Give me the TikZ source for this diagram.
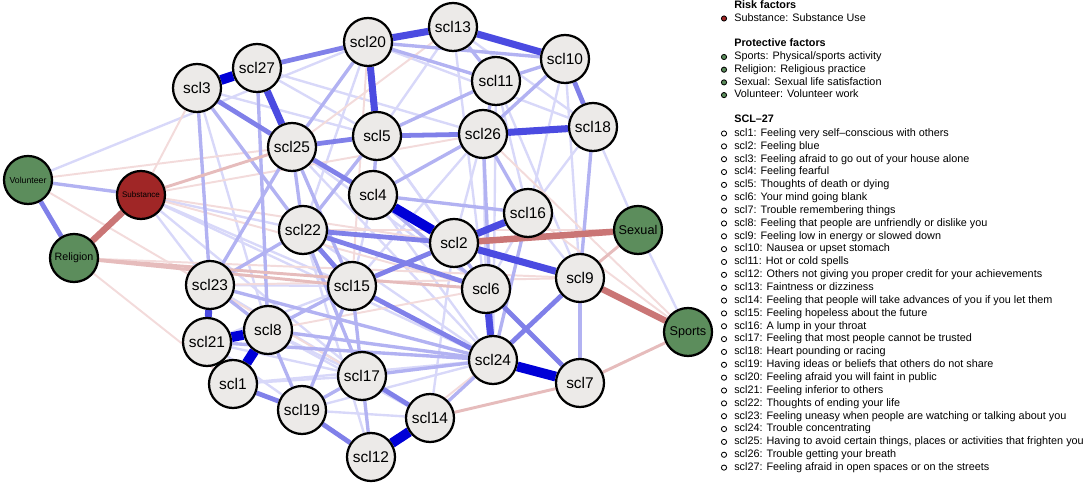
\documentclass[tikz,border=0pt]{standalone}
\usepackage{fontspec}
\setmainfont{Liberation Sans}
\usetikzlibrary{backgrounds}
\definecolor{nodegray}{RGB}{236,234,232}
\definecolor{protgreen}{RGB}{92,141,92}
\definecolor{riskred}{RGB}{160,38,38}
\definecolor{blueA}{RGB}{0,0,215}
\definecolor{blueB}{RGB}{75,75,225}
\definecolor{blueC}{RGB}{128,128,233}
\definecolor{blueD}{RGB}{178,178,242}
\definecolor{blueE}{RGB}{216,216,249}
\definecolor{redA}{RGB}{202,118,118}
\definecolor{redB}{RGB}{230,188,188}
\definecolor{redC}{RGB}{243,219,219}
\tikzstyle{sclnode} = [circle, draw, line width=1.6pt, fill=nodegray, minimum size=1.2cm, inner sep=0pt, font=\fontsize{11}{13}\selectfont]
\tikzstyle{protnode} = [sclnode, fill=protgreen]
\tikzstyle{risknode} = [sclnode, fill=riskred]
\tikzstyle{edgeA} = [line width=7pt, blueA]
\tikzstyle{edgeB} = [line width=5pt, blueB]
\tikzstyle{edgeC} = [line width=3.4pt, blueC]
\tikzstyle{edgeD} = [line width=2.4pt, blueD]
\tikzstyle{edgeE} = [line width=1.7pt, blueE]
\tikzstyle{negA} = [line width=4.6pt, redA]
\tikzstyle{negB} = [line width=2.1pt, redB]
\tikzstyle{negC} = [line width=1.4pt, redC]
\tikzstyle{legtext} = [anchor=west, inner sep=0pt, text height=5.6pt, text depth=1.6pt, font=\fontsize{7.7}{9}\selectfont]
\tikzstyle{leghead} = [legtext, font=\fontsize{7.7}{9}\selectfont\bfseries]
\tikzstyle{legdot} = [circle, draw, line width=0.6pt, minimum size=0.13cm, inner sep=0pt]

\begin{document}
\begin{tikzpicture}[x=0.025cm, y=-0.025cm]
	\useasboundingbox (0,0) rectangle (1084,484);

	% Factor nodes
	\node (volunteer) [protnode, font=\fontsize{6.2}{7}\selectfont] at (28,180) {Volunteer};
	\node (substance) [risknode, font=\fontsize{5.7}{7}\selectfont] at (141,195) {Substance};
	\node (religion) [protnode, font=\fontsize{7.6}{9}\selectfont] at (74,258) {Religion};
	\node (sexual) [protnode, font=\fontsize{9}{10}\selectfont] at (638,230) {Sexual};
	\node (sports) [protnode, font=\fontsize{9}{10}\selectfont] at (688,332) {Sports};

	% SCL-27 items
	\node (scl1) [sclnode] at (233,384) {scl1};
	\node (scl2) [sclnode] at (454,243) {scl2};
	\node (scl3) [sclnode] at (197,88) {scl3};
	\node (scl4) [sclnode] at (373,195) {scl4};
	\node (scl5) [sclnode] at (377,136) {scl5};
	\node (scl6) [sclnode] at (486,289) {scl6};
	\node (scl7) [sclnode] at (580,383) {scl7};
	\node (scl8) [sclnode] at (268,330) {scl8};
	\node (scl9) [sclnode] at (580,278) {scl9};
	\node (scl10) [sclnode] at (565,59) {scl10};
	\node (scl11) [sclnode] at (496,81) {scl11};
	\node (scl12) [sclnode] at (371,457) {scl12};
	\node (scl13) [sclnode] at (453,27) {scl13};
	\node (scl14) [sclnode] at (430,418) {scl14};
	\node (scl15) [sclnode] at (352,286) {scl15};
	\node (scl16) [sclnode] at (528,213) {scl16};
	\node (scl17) [sclnode] at (362,376) {scl17};
	\node (scl18) [sclnode] at (593,127) {scl18};
	\node (scl19) [sclnode] at (302,410) {scl19};
	\node (scl20) [sclnode] at (368,42) {scl20};
	\node (scl21) [sclnode] at (207,342) {scl21};
	\node (scl22) [sclnode] at (303,230) {scl22};
	\node (scl23) [sclnode] at (210,285) {scl23};
	\node (scl24) [sclnode] at (493,360) {scl24};
	\node (scl25) [sclnode] at (292,147) {scl25};
	\node (scl26) [sclnode] at (483,134) {scl26};
	\node (scl27) [sclnode] at (257,68) {scl27};

	\begin{scope}[on background layer]
	% Edges - faint
	\draw[edgeE] (volunteer) -- (scl20);
	\draw[edgeE] (substance) -- (scl22);
	\draw[edgeE] (substance) -- (scl24);
	\draw[edgeE] (substance) -- (scl15);
	\draw[edgeE] (substance) -- (scl23);
	\draw[edgeE] (substance) -- (scl17);
	\draw[edgeE] (scl18) -- (sexual);
	\draw[edgeE] (sexual) -- (sports);
	\draw[edgeE] (scl27) -- (scl26);
	\draw[edgeE] (scl27) -- (scl5);
	\draw[edgeE] (scl3) -- (scl5);
	\draw[edgeE] (scl20) -- (scl18);
	\draw[edgeE] (scl13) -- (scl18);
	\draw[edgeE] (scl11) -- (scl16);
	\draw[edgeE] (scl16) -- (scl9);
	\draw[edgeE] (scl10) -- (scl9);
	\draw[edgeE] (scl13) -- (scl24);
	\draw[edgeE] (scl5) -- (scl6);
	\draw[edgeE] (scl4) -- (scl24);
	\draw[edgeE] (scl23) -- (scl15);
	\draw[edgeE] (scl21) -- (scl15);
	\draw[edgeE] (scl1) -- (scl17);
	\draw[edgeE] (scl8) -- (scl14);
	\draw[edgeE] (scl19) -- (scl24);
	\draw[edgeE] (scl21) -- (scl12);
	\draw[edgeE] (scl22) -- (scl12);
	\draw[edgeE] (scl20) -- (scl22);
	\draw[edgeE] (scl26) -- (scl15);
	\draw[edgeE] (scl2) -- (scl14);
	\draw[edgeE] (scl18) -- (scl16);
	\draw[edgeE] (scl25) -- (scl24);
	\draw[edgeE] (scl3) -- (scl8);
	\draw[edgeE] (scl11) -- (scl9);
	\draw[edgeE] (scl25) -- (scl2);
	\draw[edgeE] (scl25) -- (scl6);
	\draw[edgeE] (scl22) -- (scl24);
	\draw[edgeE] (scl4) -- (scl15);
	\draw[edgeE] (scl5) -- (scl2);
	\draw[edgeE] (scl26) -- (scl2);
	\draw[edgeE] (scl26) -- (scl6);
	\draw[edgeE] (scl11) -- (scl24);
	\draw[edgeE] (scl16) -- (scl6);
	\draw[edgeE] (scl23) -- (scl17);
	\draw[edgeE] (scl21) -- (scl17);
	\draw[edgeE] (scl1) -- (scl24);
	\draw[edgeE] (scl8) -- (scl17);
	\draw[edgeE] (scl19) -- (scl14);
	\draw[edgeE] (scl13) -- (scl5);
	\draw[edgeE] (scl10) -- (scl16);

	% Edges - faint negative
	\draw[negC] (volunteer) -- (scl25);
	\draw[negC] (volunteer) -- (scl17);
	\draw[negC] (religion) -- (scl1);
	\draw[negC] (religion) -- (scl9);
	\draw[negC] (substance) -- (scl3);
	\draw[negC] (substance) -- (scl2);
	\draw[negC] (substance) -- (scl6);
	\draw[negC] (substance) -- (scl26);
	\draw[negC] (scl16) -- (sports);
	\draw[negC] (scl26) -- (sports);
	\draw[negC] (scl12) -- (scl24);
	\draw[negC] (scl20) -- (scl15);
	\draw[negC] (scl13) -- (scl25);
	\draw[negC] (scl22) -- (sexual);
	\draw[negC] (scl23) -- (scl9);
	\draw[negC] (scl8) -- (scl6);

	% Edges - light
	\draw[edgeD] (volunteer) -- (substance);
	\draw[edgeD] (scl10) -- (scl11);
	\draw[edgeD] (scl5) -- (scl11);
	\draw[edgeD] (scl20) -- (scl11);
	\draw[edgeD] (scl20) -- (scl10);
	\draw[edgeD] (scl4) -- (scl16);
	\draw[edgeD] (scl5) -- (scl4);
	\draw[edgeD] (scl25) -- (scl22);
	\draw[edgeD] (scl25) -- (scl23);
	\draw[edgeD] (scl3) -- (scl23);
	\draw[edgeD] (scl27) -- (scl8);
	\draw[edgeD] (scl17) -- (scl24);
	\draw[edgeD] (scl14) -- (scl24);
	\draw[edgeD] (scl19) -- (scl17);
	\draw[edgeD] (scl23) -- (scl24);
	\draw[edgeD] (scl8) -- (scl24);
	\draw[edgeD] (scl9) -- (scl7);
	\draw[edgeD] (scl2) -- (scl6);
	\draw[edgeD] (scl15) -- (scl17);
	\draw[edgeD] (scl15) -- (scl8);
	\draw[edgeD] (scl23) -- (scl8);
	\draw[edgeD] (scl17) -- (scl12);
	\draw[edgeD] (scl8) -- (scl19);
	\draw[edgeD] (scl26) -- (scl16);
	\draw[edgeD] (scl11) -- (scl26);
	\draw[edgeD] (scl13) -- (scl11);
	\draw[edgeD] (scl25) -- (scl15);
	\draw[edgeD] (scl26) -- (scl4);
	\draw[edgeD] (scl18) -- (scl9);
	\draw[edgeD] (scl16) -- (scl24);
	\draw[edgeD] (scl22) -- (scl23);
	\draw[edgeD] (scl21) -- (scl1);
	\draw[edgeD] (scl22) -- (scl17);
	\draw[edgeD] (scl26) -- (scl24);
	\draw[edgeD] (scl10) -- (scl26);
	\draw[edgeD] (scl5) -- (scl22);
	\draw[edgeD] (scl4) -- (scl6);
	\draw[edgeD] (scl15) -- (scl19);
	\draw[edgeD] (scl21) -- (scl24);
	\draw[edgeD] (scl20) -- (scl25);
	\draw[edgeD] (scl3) -- (scl22);

	% Edges - light negative
	\draw[negB] (substance) -- (scl25);
	\draw[negB] (religion) -- (scl15);
	\draw[negB] (religion) -- (scl6);
	\draw[negB] (scl7) -- (sports);
	\draw[negB] (scl14) -- (scl7);
	\draw[negB] (scl9) -- (sexual);

	% Edges - medium
	\draw[edgeC] (volunteer) -- (religion);
	\draw[edgeC] (scl10) -- (scl18);
	\draw[edgeC] (scl5) -- (scl26);
	\draw[edgeC] (scl2) -- (scl15);
	\draw[edgeC] (scl9) -- (scl24);
	\draw[edgeC] (scl6) -- (scl7);
	\draw[edgeC] (scl1) -- (scl19);
	\draw[edgeC] (scl19) -- (scl12);
	\draw[edgeC] (scl3) -- (scl25);
	\draw[edgeC] (scl27) -- (scl20);
	\draw[edgeC] (scl25) -- (scl4);
	\draw[edgeC] (scl22) -- (scl2);
	\draw[edgeC] (scl22) -- (scl15);
	\draw[edgeC] (scl17) -- (scl14);
	\draw[edgeC] (scl25) -- (scl5);
	\draw[edgeC] (scl15) -- (scl24);
	\draw[edgeC] (scl22) -- (scl6);

	% Edges - strong
	\draw[edgeB] (scl27) -- (scl25);
	\draw[edgeB] (scl20) -- (scl13);
	\draw[edgeB] (scl13) -- (scl10);
	\draw[edgeB] (scl20) -- (scl5);
	\draw[edgeB] (scl26) -- (scl18);
	\draw[edgeB] (scl2) -- (scl9);
	\draw[edgeB] (scl6) -- (scl24);
	\draw[edgeB] (scl23) -- (scl21);
	\draw[edgeB] (scl2) -- (scl16);

	% Edges - strong negative
	\draw[negA] (scl2) -- (sexual);
	\draw[negA] (scl9) -- (sports);
	\draw[negA] (substance) -- (religion);

	% Edges - very strong
	\draw[edgeA] (scl3) -- (scl27);
	\draw[edgeA] (scl4) -- (scl2);
	\draw[edgeA] (scl24) -- (scl7);
	\draw[edgeA] (scl14) -- (scl12);
	\draw[edgeA] (scl21) -- (scl8);
	\draw[edgeA] (scl8) -- (scl1);
	\end{scope}

	% Legend
	\node (riskhead) [leghead] at (734,6) {Risk factors};
	\node (dotsubst) [legdot, fill=riskred] at (724,18.5) {};
	\node (legsubst) [legtext] at (734,18.5) {Substance: Substance Use};

	\node (prothead) [leghead] at (734,44) {Protective factors};
	\node (dotsports) [legdot, fill=protgreen] at (724,57) {};
	\node (legsports) [legtext] at (734,57) {Sports: Physical/sports activity};
	\node (dotrelig) [legdot, fill=protgreen] at (724,69.7) {};
	\node (legrelig) [legtext] at (734,69.7) {Religion: Religious practice};
	\node (dotsexual) [legdot, fill=protgreen] at (724,82.4) {};
	\node (legsexual) [legtext] at (734,82.4) {Sexual: Sexual life satisfaction};
	\node (dotvolun) [legdot, fill=protgreen] at (724,95.1) {};
	\node (legvolun) [legtext] at (734,95.1) {Volunteer: Volunteer work};

	\node (sclhead) [leghead] at (734,120) {SCL–27};
	\node (dot1) [legdot] at (724,133.5) {};
	\node (leg1) [legtext] at (734,133.5) {scl1: Feeling very self–conscious with others};
	\node (dot2) [legdot] at (724,146.35) {};
	\node (leg2) [legtext] at (734,146.35) {scl2: Feeling blue};
	\node (dot3) [legdot] at (724,159.2) {};
	\node (leg3) [legtext] at (734,159.2) {scl3: Feeling afraid to go out of your house alone};
	\node (dot4) [legdot] at (724,172.05) {};
	\node (leg4) [legtext] at (734,172.05) {scl4: Feeling fearful};
	\node (dot5) [legdot] at (724,184.9) {};
	\node (leg5) [legtext] at (734,184.9) {scl5: Thoughts of death or dying};
	\node (dot6) [legdot] at (724,197.75) {};
	\node (leg6) [legtext] at (734,197.75) {scl6: Your mind going blank};
	\node (dot7) [legdot] at (724,210.6) {};
	\node (leg7) [legtext] at (734,210.6) {scl7: Trouble remembering things};
	\node (dot8) [legdot] at (724,223.45) {};
	\node (leg8) [legtext] at (734,223.45) {scl8: Feeling that people are unfriendly or dislike you};
	\node (dot9) [legdot] at (724,236.3) {};
	\node (leg9) [legtext] at (734,236.3) {scl9: Feeling low in energy or slowed down};
	\node (dot10) [legdot] at (724,249.15) {};
	\node (leg10) [legtext] at (734,249.15) {scl10: Nausea or upset stomach};
	\node (dot11) [legdot] at (724,262) {};
	\node (leg11) [legtext] at (734,262) {scl11: Hot or cold spells};
	\node (dot12) [legdot] at (724,274.85) {};
	\node (leg12) [legtext] at (734,274.85) {scl12: Others not giving you proper credit for your achievements};
	\node (dot13) [legdot] at (724,287.7) {};
	\node (leg13) [legtext] at (734,287.7) {scl13: Faintness or dizziness};
	\node (dot14) [legdot] at (724,300.55) {};
	\node (leg14) [legtext] at (734,300.55) {scl14: Feeling that people will take advances of you if you let them};
	\node (dot15) [legdot] at (724,313.4) {};
	\node (leg15) [legtext] at (734,313.4) {scl15: Feeling hopeless about the future};
	\node (dot16) [legdot] at (724,326.25) {};
	\node (leg16) [legtext] at (734,326.25) {scl16: A lump in your throat};
	\node (dot17) [legdot] at (724,339.1) {};
	\node (leg17) [legtext] at (734,339.1) {scl17: Feeling that most people cannot be trusted};
	\node (dot18) [legdot] at (724,351.95) {};
	\node (leg18) [legtext] at (734,351.95) {scl18: Heart pounding or racing};
	\node (dot19) [legdot] at (724,364.8) {};
	\node (leg19) [legtext] at (734,364.8) {scl19: Having ideas or beliefs that others do not share};
	\node (dot20) [legdot] at (724,377.65) {};
	\node (leg20) [legtext] at (734,377.65) {scl20: Feeling afraid you will faint in public};
	\node (dot21) [legdot] at (724,390.5) {};
	\node (leg21) [legtext] at (734,390.5) {scl21: Feeling inferior to others};
	\node (dot22) [legdot] at (724,403.35) {};
	\node (leg22) [legtext] at (734,403.35) {scl22: Thoughts of ending your life};
	\node (dot23) [legdot] at (724,416.2) {};
	\node (leg23) [legtext] at (734,416.2) {scl23: Feeling uneasy when people are watching or talking about you};
	\node (dot24) [legdot] at (724,429.05) {};
	\node (leg24) [legtext] at (734,429.05) {scl24: Trouble concentrating};
	\node (dot25) [legdot] at (724,441.9) {};
	\node (leg25) [legtext] at (734,441.9) {scl25: Having to avoid certain things, places or activities that frighten you};
	\node (dot26) [legdot] at (724,454.75) {};
	\node (leg26) [legtext] at (734,454.75) {scl26: Trouble getting your breath};
	\node (dot27) [legdot] at (724,467.6) {};
	\node (leg27) [legtext] at (734,467.6) {scl27: Feeling afraid in open spaces or on the streets};

\end{tikzpicture}
\end{document}
